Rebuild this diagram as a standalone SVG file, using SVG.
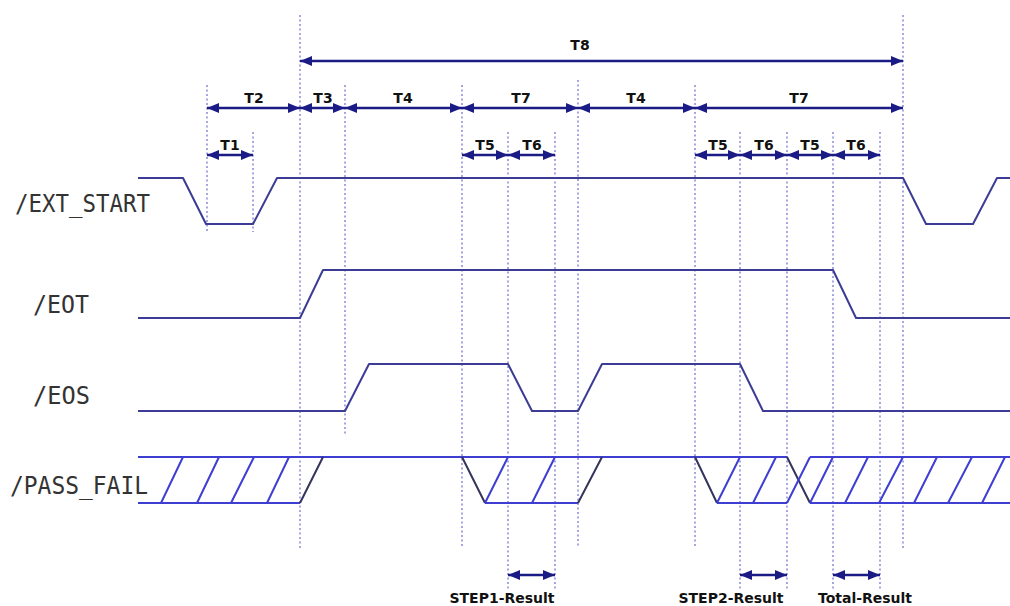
<svg xmlns="http://www.w3.org/2000/svg" width="1010" height="606" viewBox="0 0 1010 606">
<defs>
<marker id="ah" viewBox="0 0 12 10" refX="12" refY="5" markerWidth="12" markerHeight="10" markerUnits="userSpaceOnUse" orient="auto-start-reverse"><path d="M0,0 L12,5 L0,10 z" fill="#1b1b86"/></marker>
<style>
.g{stroke:#6b6bd0;stroke-width:1.2;stroke-dasharray:2 2.5;fill:none}
.d{stroke:#1b1b86;stroke-width:2.4;fill:none;marker-start:url(#ah);marker-end:url(#ah)}
.s{stroke:#3c3c96;stroke-width:2;fill:none;stroke-linejoin:round}
.pb{stroke:#3e3ed2;stroke-width:2;fill:none}
.pe{stroke:#34345c;stroke-width:2;fill:none}
.t{font-family:"DejaVu Sans",sans-serif;font-weight:bold;font-size:14px;fill:#111;text-anchor:middle}
.lb{font-family:"DejaVu Sans Mono",monospace;font-size:25px;fill:#333}
</style>
</defs>
<rect width="1010" height="606" fill="#fff"/>
<g id="guides">
<line class="g" x1="207" y1="85" x2="207" y2="232"/>
<line class="g" x1="253" y1="132" x2="253" y2="232"/>
<line class="g" x1="300" y1="15" x2="300" y2="550"/>
<line class="g" x1="345" y1="85" x2="345" y2="436"/>
<line class="g" x1="462" y1="85" x2="462" y2="548"/>
<line class="g" x1="508" y1="132" x2="508" y2="590"/>
<line class="g" x1="555" y1="132" x2="555" y2="590"/>
<line class="g" x1="578" y1="80" x2="578" y2="547"/>
<line class="g" x1="695" y1="85" x2="695" y2="548"/>
<line class="g" x1="740" y1="132" x2="740" y2="590"/>
<line class="g" x1="787" y1="132" x2="787" y2="590"/>
<line class="g" x1="833" y1="132" x2="833" y2="590"/>
<line class="g" x1="880" y1="132" x2="880" y2="590"/>
<line class="g" x1="903" y1="15" x2="903" y2="550"/>
</g>
<g id="ext_start">
<text class="lb" x="15" y="212" textLength="135" lengthAdjust="spacingAndGlyphs">/EXT_START</text>
<path class="s" d="M138,178 H183 L206,224 H253 L277,178 H903 L926,224 H973 L997,178 H1010"/>
</g>
<g id="eot">
<text class="lb" x="33" y="313" textLength="56" lengthAdjust="spacingAndGlyphs">/EOT</text>
<path class="s" d="M138,318 H300 L323,270 H833 L856,318 H1010"/>
</g>
<g id="eos">
<text class="lb" x="33" y="404" textLength="57" lengthAdjust="spacingAndGlyphs">/EOS</text>
<path class="s" d="M138,411 H345 L369,364 H508 L532,411 H578 L602,364 H740 L763,411 H1010"/>
</g>
<g id="pass_fail">
<text class="lb" x="10" y="494" textLength="138" lengthAdjust="spacingAndGlyphs">/PASS_FAIL</text>
<path class="pb" d="M138,457 H787 M138,503 H300 M485,503 H578 M717,503 H787 M810,503 H1010 M810,457 H1010"/>
<path class="pe" d="M300,503 L323,457 M462,457 L485,503 M578,503 L602,457 M695,457 L717,503 M787,457 L810,503"/>
<path class="pb" d="M787,503 L810,457 M161,503 L183,457 M197,503 L219,457 M231,503 L254,457 M267,503 L289,457 M485,503 L508,457 M532,503 L555,457 M717,503 L740,457 M753,503 L776,457 M810,503 L833,457 M845,503 L868,457 M879,503 L903,457 M914,503 L937,457 M948,503 L972,457 M982,503 L1005,457"/>
</g>
<g id="connectors">
<line class="d" x1="300" y1="61" x2="903" y2="61"/>
<line class="d" x1="207" y1="108" x2="300" y2="108"/>
<line class="d" x1="300" y1="108" x2="345" y2="108"/>
<line class="d" x1="345" y1="108" x2="462" y2="108"/>
<line class="d" x1="462" y1="108" x2="578" y2="108"/>
<line class="d" x1="578" y1="108" x2="695" y2="108"/>
<line class="d" x1="695" y1="108" x2="903" y2="108"/>
<line class="d" x1="207" y1="155" x2="253" y2="155"/>
<line class="d" x1="462" y1="155" x2="508" y2="155"/>
<line class="d" x1="508" y1="155" x2="555" y2="155"/>
<line class="d" x1="695" y1="155" x2="740" y2="155"/>
<line class="d" x1="740" y1="155" x2="787" y2="155"/>
<line class="d" x1="787" y1="155" x2="833" y2="155"/>
<line class="d" x1="833" y1="155" x2="880" y2="155"/>
<line class="d" x1="508" y1="575" x2="555" y2="575"/>
<line class="d" x1="740" y1="575" x2="787" y2="575"/>
<line class="d" x1="833" y1="575" x2="880" y2="575"/>
</g>
<g id="labels">
<text class="t" x="580" y="50">T8</text>
<text class="t" x="254" y="103">T2</text>
<text class="t" x="323" y="103">T3</text>
<text class="t" x="403" y="103">T4</text>
<text class="t" x="521" y="103">T7</text>
<text class="t" x="636" y="103">T4</text>
<text class="t" x="799" y="103">T7</text>
<text class="t" x="230" y="150">T1</text>
<text class="t" x="485" y="150">T5</text>
<text class="t" x="532" y="150">T6</text>
<text class="t" x="718" y="150">T5</text>
<text class="t" x="764" y="150">T6</text>
<text class="t" x="810" y="150">T5</text>
<text class="t" x="856" y="150">T6</text>
<text class="t" x="502" y="603">STEP1-Result</text>
<text class="t" x="731" y="603">STEP2-Result</text>
<text class="t" x="865" y="603">Total-Result</text>
</g>
</svg>
